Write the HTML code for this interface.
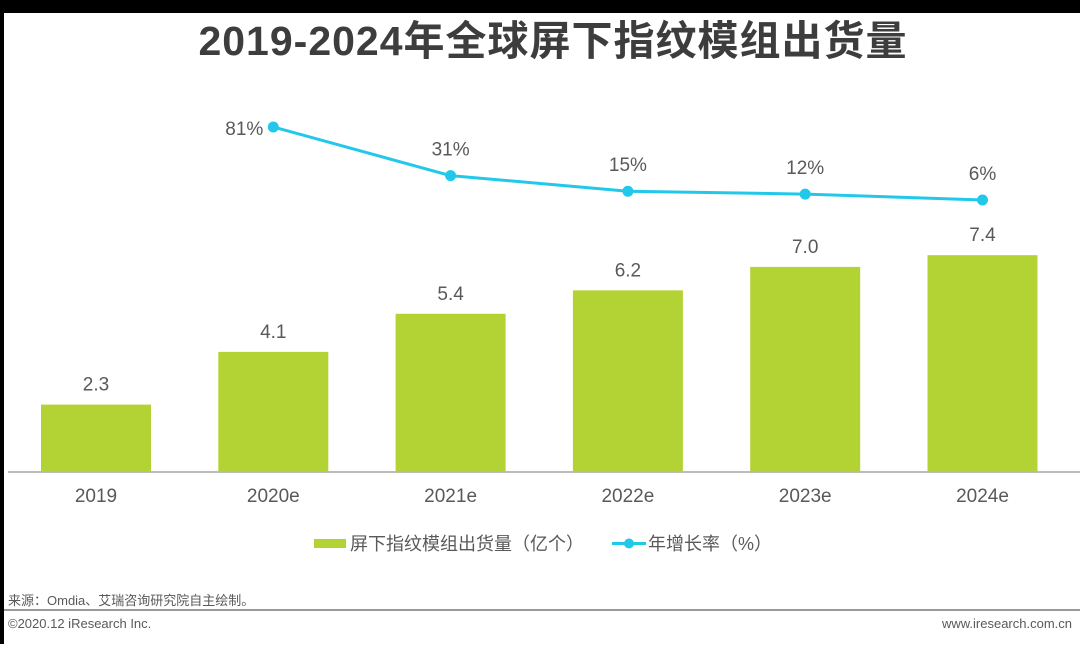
<!DOCTYPE html>
<html><head><meta charset="utf-8"><style>
html,body{margin:0;padding:0;background:#fff;}
body{width:1080px;height:644px;position:relative;overflow:hidden;font-family:"Liberation Sans","Noto Sans CJK SC",sans-serif;}
svg text{font-family:"Liberation Sans","Noto Sans CJK SC",sans-serif;}
</style></head><body>
<svg id="chart" width="1080" height="644" xmlns="http://www.w3.org/2000/svg">
<rect x="0" y="0" width="1080" height="13" fill="#000"/>
<rect x="0" y="0" width="4" height="644" fill="#000"/>
<text x="553" y="55" text-anchor="middle" font-size="41" font-weight="bold" letter-spacing="1" fill="#3d3d3d">2019-2024年全球屏下指纹模组出货量</text>
<line x1="8" y1="472" x2="1080" y2="472" stroke="#a6a6a6" stroke-width="1.5"/>
<g id="bars"></g><g id="line"></g><g id="xlabels"></g>
<g>
<rect x="314" y="539" width="32" height="9" fill="#b3d334"/>
<text x="350" y="550" font-size="18" fill="#595959">屏下指纹模组出货量（亿个）</text>
<line x1="612" y1="543.5" x2="646" y2="543.5" stroke="#22c8ea" stroke-width="3"/>
<circle cx="629" cy="543.5" r="5" fill="#22c8ea"/>
<text x="648" y="550" font-size="18" fill="#595959">年增长率（%）</text>
</g>
<text x="8" y="605" font-size="13" fill="#595959">来源：Omdia、艾瑞咨询研究院自主绘制。</text>
<rect x="4" y="609" width="1076" height="2" fill="#9a9a9a"/>
<text x="8" y="628" font-size="13" fill="#595959">©2020.12 iResearch Inc.</text>
<text x="1072" y="628" text-anchor="end" font-size="13" fill="#595959">www.iresearch.com.cn</text>
</svg>
<script>
const categories = ["2019","2020e","2021e","2022e","2023e","2024e"];
const shipments = [2.3,4.1,5.4,6.2,7.0,7.4];
const growthYears = ["2020e","2021e","2022e","2023e","2024e"];
const growth = [81,31,15,12,6];
const NS="http://www.w3.org/2000/svg";
const xc = i => 96 + i*177.3;
const yBar = v => 472 - v*29.3;
const yLine = v => 205.8 - v*0.973;
function mk(tag, attrs, parent){const e=document.createElementNS(NS,tag);for(const k in attrs)e.setAttribute(k,attrs[k]);parent.appendChild(e);return e;}
const gb=document.getElementById('bars'), gl=document.getElementById('line'), gx=document.getElementById('xlabels');
categories.forEach((c,i)=>{
  const v=shipments[i];
  const r=mk('rect',{x:xc(i)-55,y:yBar(v),width:110,height:472-yBar(v),fill:'#b3d334'},gb);
  
  
  const t=mk('text',{x:xc(i),y:yBar(v)-14,'text-anchor':'middle','font-size':19,fill:'#595959'},gb);
  t.textContent=v.toFixed(1);
  
  
  const l=mk('text',{x:xc(i),y:502,'text-anchor':'middle','font-size':19,fill:'#595959'},gx);
  l.textContent=c;
  
  
});
const pts=growth.map((v,j)=>[xc(categories.indexOf(growthYears[j])),yLine(v)]);
const pl=mk('polyline',{points:pts.map(p=>p.join(',')).join(' '),fill:'none',stroke:'#22c8ea','stroke-width':3,'stroke-linejoin':'round'},gl);


pts.forEach((p,j)=>{
  const c=mk('circle',{cx:p[0],cy:p[1],r:5.5,fill:'#22c8ea'},gl);
  
  
  const t = j===0 ? mk('text',{x:p[0]-10,y:p[1]+8,'text-anchor':'end','font-size':19,fill:'#595959'},gl)
                  : mk('text',{x:p[0],y:p[1]-20,'text-anchor':'middle','font-size':19,fill:'#595959'},gl);
  t.textContent=growth[j]+'%';
  
  
});
</script>
</body></html>
